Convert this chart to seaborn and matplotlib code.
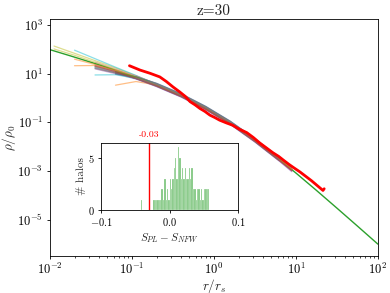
#!/usr/bin/env python3
"""Density profiles of halos at z=30 with NFW fit and inset histogram of S_PL - S_NFW."""

import numpy as np
import pandas as pd
import matplotlib
matplotlib.use("Agg")
import matplotlib.pyplot as plt
from matplotlib.ticker import LogLocator, NullFormatter, NullLocator
import matplotlib.transforms as mtransforms
import seaborn as sns

# ---------------------------------------------------------------------------
# Data (log10 values)
# ---------------------------------------------------------------------------

# NFW reference curve
nfw_logr = [-2.0, -1.75, -1.5, -1.25, -1.0, -0.75, -0.5, -0.25, 0.0,
            0.25, 0.5, 0.75, 1.0, 1.25, 1.5, 1.75, 2.0]
nfw_logrho = [1.991, 1.735, 1.473, 1.203, 0.917, 0.608, 0.261, -0.138, -0.602,
              -1.137, -1.739, -2.392, -3.083, -3.797, -4.527, -5.265, -6.009]

# stacked / power-law profile (thick red)
red_logr = [-1.03, -0.90, -0.78, -0.66, -0.58, -0.50, -0.42, -0.35, -0.29,
            -0.23, -0.17, -0.11, -0.05, 0.01, 0.07, 0.15, 0.23, 0.31, 0.40,
            0.48, 0.56, 0.64, 0.72, 0.79, 0.85, 0.92, 0.98, 1.05, 1.12,
            1.19, 1.26, 1.33, 1.345]
red_logrho = [1.33, 1.15, 1.02, 0.87, 0.68, 0.46, 0.26, 0.07, -0.15,
              -0.28, -0.43, -0.55, -0.70, -0.80, -0.91, -1.02, -1.12, -1.28,
              -1.42, -1.62, -1.85, -2.05, -2.25, -2.40, -2.56, -2.74, -2.88,
              -3.04, -3.22, -3.40, -3.60, -3.80, -3.73]

# individual halo profiles on a common radial grid (None = not covered)
halo_logr = [-1.95, -1.7, -1.45, -1.2, -0.95, -0.7, -0.4, -0.1, 0.2, 0.5, 0.8, 0.95]
n = None
halo_logrho = [
    [n, n, n, 1.10, 0.82, 0.50, 0.07, -0.45, -1.06, -1.78, -2.57, -2.98],
    [n, 1.33, 1.34, 1.15, 0.89, 0.59, 0.16, -0.36, -0.97, -1.69, -2.48, n],
    [n, n, 1.30, 1.10, 0.86, 0.55, 0.12, -0.40, -1.01, -1.73, -2.52, -2.93],
    [n, n, n, 1.02, 0.81, 0.52, 0.09, -0.43, -1.04, -1.76, -2.55, n],
    [n, n, 1.20, 1.00, 0.78, 0.48, 0.05, -0.47, -1.08, -1.80, -2.59, -3.00],
    [n, n, n, 0.98, 0.86, 0.60, 0.17, -0.35, -0.96, -1.68, -2.47, n],
    [n, n, 1.48, 1.20, 0.90, 0.57, 0.14, -0.38, -0.99, -1.71, -2.50, -2.91],
    [n, n, n, 1.12, 0.85, 0.54, 0.11, -0.41, -1.02, -1.74, -2.53, -2.95],
    [2.14, 1.84, 1.54, 1.24, 0.92, 0.58, 0.15, -0.37, -0.98, -1.70, -2.49, n],
    [n, 1.97, 1.62, 1.27, 0.93, 0.56, 0.13, -0.39, -1.00, -1.72, -2.51, -2.92],
    [n, n, 1.25, 1.04, 0.80, 0.49, 0.06, -0.46, -1.07, -1.79, -2.58, n],
    [n, n, n, 0.53, 0.68, 0.54, 0.13, -0.39, -1.00, -1.72, -2.51, -2.92],
    [n, n, 1.42, 1.14, 0.85, 0.53, 0.10, -0.42, -1.03, -1.75, -2.54, -2.95],
    [n, n, n, n, 0.89, 0.58, 0.15, -0.37, -0.98, -1.70, -2.49, n],
    [n, n, 1.36, 1.10, 0.80, 0.47, 0.04, -0.48, -1.09, -1.81, -2.60, -3.03],
    [n, n, n, 1.06, 0.81, 0.52, 0.09, -0.43, -1.04, -1.76, -2.55, n],
    [n, n, n, 1.16, 0.91, 0.59, 0.16, -0.36, -0.97, -1.69, -2.48, -2.88],
    [n, n, 1.28, 1.06, 0.81, 0.50, 0.07, -0.45, -1.06, -1.78, -2.57, n],
    [2.02, 1.76, 1.47, 1.17, 0.87, 0.55, 0.12, -0.40, -1.01, -1.73, -2.52, -2.93],
    [n, n, 0.95, 0.96, 0.81, 0.51, 0.08, -0.44, -1.05, -1.77, -2.56, n],
    [n, n, n, 1.00, 0.87, 0.61, 0.18, -0.34, -0.95, -1.67, -2.46, -2.86],
    [n, 1.60, 1.38, 1.13, 0.85, 0.53, 0.10, -0.42, -1.03, -1.75, -2.54, -2.95],
    [n, n, n, 1.08, 0.87, 0.57, 0.14, -0.38, -0.99, -1.71, -2.50, n],
    [n, n, 1.32, 1.08, 0.80, 0.49, 0.06, -0.46, -1.07, -1.79, -2.58, -2.99],
    [n, n, n, n, 0.82, 0.56, 0.13, -0.39, -1.00, -1.72, -2.51, n],
    [n, n, 1.22, 1.03, 0.82, 0.52, 0.09, -0.43, -1.04, -1.76, -2.55, -2.96],
]

# inset histogram: S_PL - S_NFW, bins of 0.002 starting at -0.042
ds_centers = [-0.041, -0.023, -0.021, -0.019, -0.017, -0.015, -0.013, -0.011,
              -0.009, -0.007, -0.005, -0.003, -0.001, 0.001, 0.003, 0.005,
              0.007, 0.009, 0.011, 0.013, 0.015, 0.017, 0.019, 0.021, 0.023,
              0.025, 0.027, 0.029, 0.031, 0.033, 0.035, 0.037, 0.039, 0.041,
              0.043, 0.045, 0.047, 0.049, 0.051, 0.053, 0.055, 0.057]
ds_counts = [1, 1, 1, 1, 1, 1, 1, 2,
             1, 3, 1, 2, 1, 3, 2, 3,
             4, 5, 3, 6, 5, 3, 4, 3, 4,
             3, 3, 4, 3, 4, 2, 2, 1, 2,
             2, 1, 2, 1, 2, 2, 2, 2]
ds_median = -0.03

x_ticks = [1e-2, 1e-1, 1e0, 1e1, 1e2]
x_ticklabels = [r"$10^{-2}$", r"$10^{-1}$", r"$10^{0}$", r"$10^{1}$", r"$10^{2}$"]
y_ticks = [1e-5, 1e-3, 1e-1, 1e1, 1e3]
y_ticklabels = [r"$10^{-5}$", r"$10^{-3}$", r"$10^{-1}$", r"$10^{1}$", r"$10^{3}$"]
in_xticks = [-0.1, 0.0, 0.1]
in_xticklabels = [r"$-0.1$", r"$0.0$", r"$0.1$"]
in_yticks = [0, 5]
in_yticklabels = [r"$0$", r"$5$"]

# ---------------------------------------------------------------------------
# Style
# ---------------------------------------------------------------------------

sns.set_style("ticks")
plt.rcParams.update({
    "font.family": ["cmr10"],
    "mathtext.fontset": "cm",
    "axes.formatter.use_mathtext": True,
    "axes.edgecolor": "black",
    "axes.linewidth": 0.6,
    "xtick.color": "black",
    "ytick.color": "black",
    "xtick.major.size": 2.5,
    "ytick.major.size": 2.5,
    "xtick.minor.size": 1.5,
    "xtick.major.width": 0.6,
    "ytick.major.width": 0.6,
    "xtick.minor.width": 0.5,
    "xtick.major.pad": 2.0,
    "ytick.major.pad": 2.5,
})

# ---------------------------------------------------------------------------
# Figure
# ---------------------------------------------------------------------------

fig = plt.figure(figsize=(3.9, 2.93), dpi=100)
ax = fig.add_axes([0.128, 0.126, 0.841, 0.809])
ax.set_xscale("log")
ax.set_yscale("log")

rows = []
for h, vals in enumerate(halo_logrho):
    for lr, lv in zip(halo_logr, vals):
        if lv is not None:
            rows.append((h, 10 ** lr, 10 ** lv))
halos = pd.DataFrame(rows, columns=["halo", "r", "rho"])

tab10 = sns.color_palette("tab10", 10)
palette = [tab10[i % 10] for i in range(len(halo_logrho))]

# NFW underneath, halos on top, red stacked profile last
sns.lineplot(x=10 ** np.array(nfw_logr), y=10 ** np.array(nfw_logrho),
             color="tab:green", linewidth=1.0, ax=ax, zorder=1)
sns.lineplot(data=halos, x="r", y="rho", hue="halo", palette=palette,
             estimator=None, linewidth=0.9, alpha=0.5, legend=False, ax=ax,
             zorder=2)
sns.lineplot(x=10 ** np.array(red_logr), y=10 ** np.array(red_logrho),
             color="red", linewidth=2.0, sort=False, ax=ax, zorder=3)

ax.set_xlim(1e-2, 1e2)
ax.set_ylim(10 ** -6.5, 10 ** 3.25)
ax.set_xticks(x_ticks, labels=x_ticklabels)
ax.set_yticks(y_ticks, labels=y_ticklabels)
ax.xaxis.set_minor_locator(LogLocator(base=10, subs=np.arange(2, 10)))
ax.xaxis.set_minor_formatter(NullFormatter())
ax.yaxis.set_minor_locator(NullLocator())
ax.tick_params(labelsize=9)
ax.set_xlabel(r"$r/r_s$", fontsize=9.5)
ax.set_ylabel(r"$\rho/\rho_0$", fontsize=9.5)
ax.xaxis.set_label_coords(0.5, -0.09)
ax.yaxis.set_label_coords(-0.098, 0.5)
ax.set_title("z=30", fontsize=11, pad=3)

# inset histogram
axin = fig.add_axes([0.260, 0.283, 0.350, 0.229])
sns.histplot(x=ds_centers, weights=ds_counts, binwidth=0.002,
             binrange=(-0.042, 0.058), color="tab:green", alpha=0.6,
             edgecolor="white", linewidth=0.15, ax=axin)
axin.axvline(ds_median, color="red", linewidth=1.0)
trans = mtransforms.blended_transform_factory(axin.transData, axin.transAxes)
axin.text(ds_median, 1.06, "-0.03", transform=trans, color="red",
          ha="center", va="bottom", fontsize=7)
axin.set_xlim(-0.1, 0.1)
axin.set_ylim(0, 6.4)
axin.set_xticks(in_xticks, labels=in_xticklabels)
axin.set_yticks(in_yticks, labels=in_yticklabels)
axin.tick_params(labelsize=7.5)
axin.set_xlabel(r"$S_{PL}-S_{NFW}$", fontsize=8, labelpad=2)
axin.set_ylabel("# halos", fontsize=8, labelpad=1)

fig.savefig("out.png", dpi=100)
